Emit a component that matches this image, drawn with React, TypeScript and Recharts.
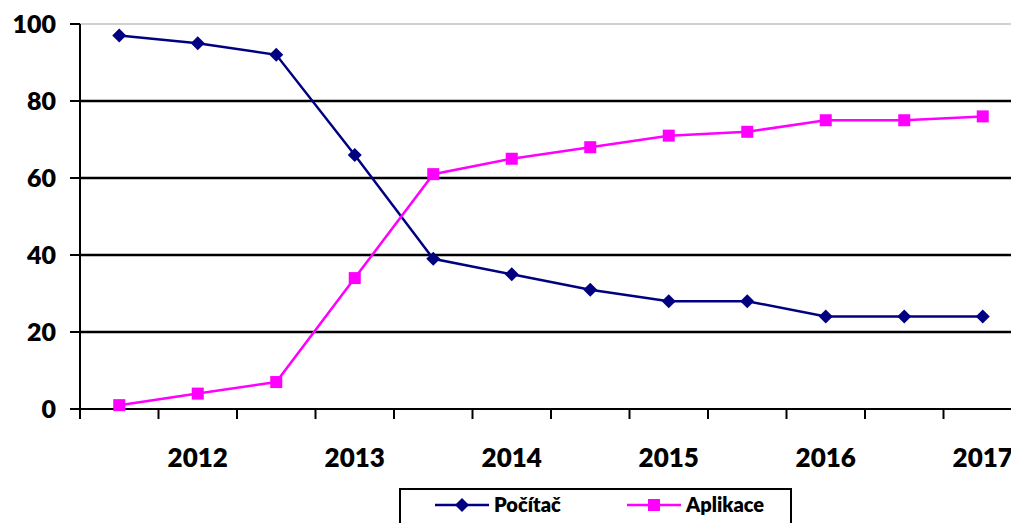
import React from 'react';
import { LineChart, Line, XAxis, YAxis, ReferenceLine, Legend } from 'recharts';

// half-year slots; only every other slot carries a year label
const xLabels = ['', '2012', '', '2013', '', '2014', '', '2015', '', '2016', '', '2017'];
const pocitac = [97, 95, 92, 66, 39, 35, 31, 28, 28, 24, 24, 24];
const aplikace = [1, 4, 7, 34, 61, 65, 68, 71, 72, 75, 75, 76];
const yTicks = [0, 20, 40, 60, 80, 100];

const SERIES = [
  { key: 'pocitac', name: 'Počítač', color: '#000080', shape: 'diamond' },
  { key: 'aplikace', name: 'Aplikace', color: '#ff00ff', shape: 'square' },
];

const data = xLabels.map((_, i) => ({ slot: i, pocitac: pocitac[i], aplikace: aplikace[i] }));

const FONT = 'Lato, "Open Sans", sans-serif';
const WEIGHT = 800;
const CHART_W = 1030;
const CHART_H = 523;
const MARGIN = { top: 24, right: 8, left: 0, bottom: 84 };
const Y_AXIS_W = 80;
const STEP = (CHART_W - MARGIN.left - MARGIN.right - Y_AXIS_W) / xLabels.length;

const Diamond = ({ cx, cy, fill }: any) => (
  <polygon points={`${cx},${cy - 7} ${cx + 7},${cy} ${cx},${cy + 7} ${cx - 7},${cy}`} fill={fill} />
);

const Square = ({ cx, cy, fill }: any) => <rect x={cx - 6} y={cy - 6} width={12} height={12} fill={fill} />;

const renderDot = (shape: string, color: string) => (props: any) => {
  if (props.cx == null || props.cy == null) return <g key={props.index} />;
  return shape === 'diamond' ? (
    <Diamond key={props.index} cx={props.cx} cy={props.cy} fill={color} />
  ) : (
    <Square key={props.index} cx={props.cx} cy={props.cy} fill={color} />
  );
};

// tick marks sit on the slot boundaries, labels on the slot centres
const XTick = ({ x, y, payload }: any) => {
  const label = xLabels[payload.value];
  return (
    <g>
      <line x1={x - STEP / 2} x2={x - STEP / 2} y1={y} y2={y + 10} stroke="#000" strokeWidth={2} />
      {label && (
        <text x={x} y={y + 58} textAnchor="middle" fontFamily={FONT} fontWeight={WEIGHT} fontSize={26} fill="#000">
          {label}
        </text>
      )}
    </g>
  );
};

const LegendBox = () => (
  <svg width={393} height={40}>
    <rect x={1} y={1} width={391} height={44} fill="#fff" stroke="#000" strokeWidth={2} />
    {SERIES.map((s, i) => {
      const x0 = i === 0 ? 36 : 228;
      const cx = x0 + 27;
      return (
        <g key={s.key}>
          <line x1={x0} x2={x0 + 54} y1={17} y2={17} stroke={s.color} strokeWidth={2.5} />
          {s.shape === 'diamond' ? <Diamond cx={cx} cy={17} fill={s.color} /> : <Square cx={cx} cy={17} fill={s.color} />}
          <text x={x0 + 59} y={24} fontFamily={FONT} fontWeight={WEIGHT} fontSize={20} fill="#000">
            {s.name}
          </text>
        </g>
      );
    })}
  </svg>
);

export default function App() {
  return (
    <div style={{ position: 'absolute', left: 0, top: 0, width: 1011, height: 523, overflow: 'hidden', background: '#fff' }}>
      <LineChart width={CHART_W} height={CHART_H} data={data} margin={MARGIN}>
        {yTicks
          .filter((t) => t > 0)
          .map((t) => (
            <ReferenceLine
              key={t}
              y={t}
              stroke={t === 100 ? '#c0c0c0' : '#000'}
              strokeWidth={t === 100 ? 1.5 : 2.5}
            />
          ))}
        <XAxis
          dataKey="slot"
          type="category"
          scale="band"
          axisLine={{ stroke: '#000', strokeWidth: 2 }}
          tickLine={false}
          tickSize={0}
          tickMargin={0}
          interval={0}
          height={30}
          tick={<XTick />}
        />
        <YAxis
          domain={[0, 100]}
          ticks={yTicks}
          width={Y_AXIS_W}
          axisLine={{ stroke: '#000', strokeWidth: 2 }}
          tickLine={{ stroke: '#000', strokeWidth: 2 }}
          tickSize={10}
          tickMargin={14}
          tick={{ fontFamily: FONT, fontWeight: WEIGHT, fontSize: 25, fill: '#000' }}
        />
        {SERIES.map((s) => (
          <Line
            key={s.key}
            dataKey={s.key}
            name={s.name}
            stroke={s.color}
            strokeWidth={2.5}
            dot={renderDot(s.shape, s.color)}
            activeDot={false}
            isAnimationActive={false}
          />
        ))}
        <Legend
          layout="horizontal"
          verticalAlign="middle"
          wrapperStyle={{ left: 399, top: 488, width: 393, height: 40 }}
          content={<LegendBox />}
        />
      </LineChart>
    </div>
  );
}
